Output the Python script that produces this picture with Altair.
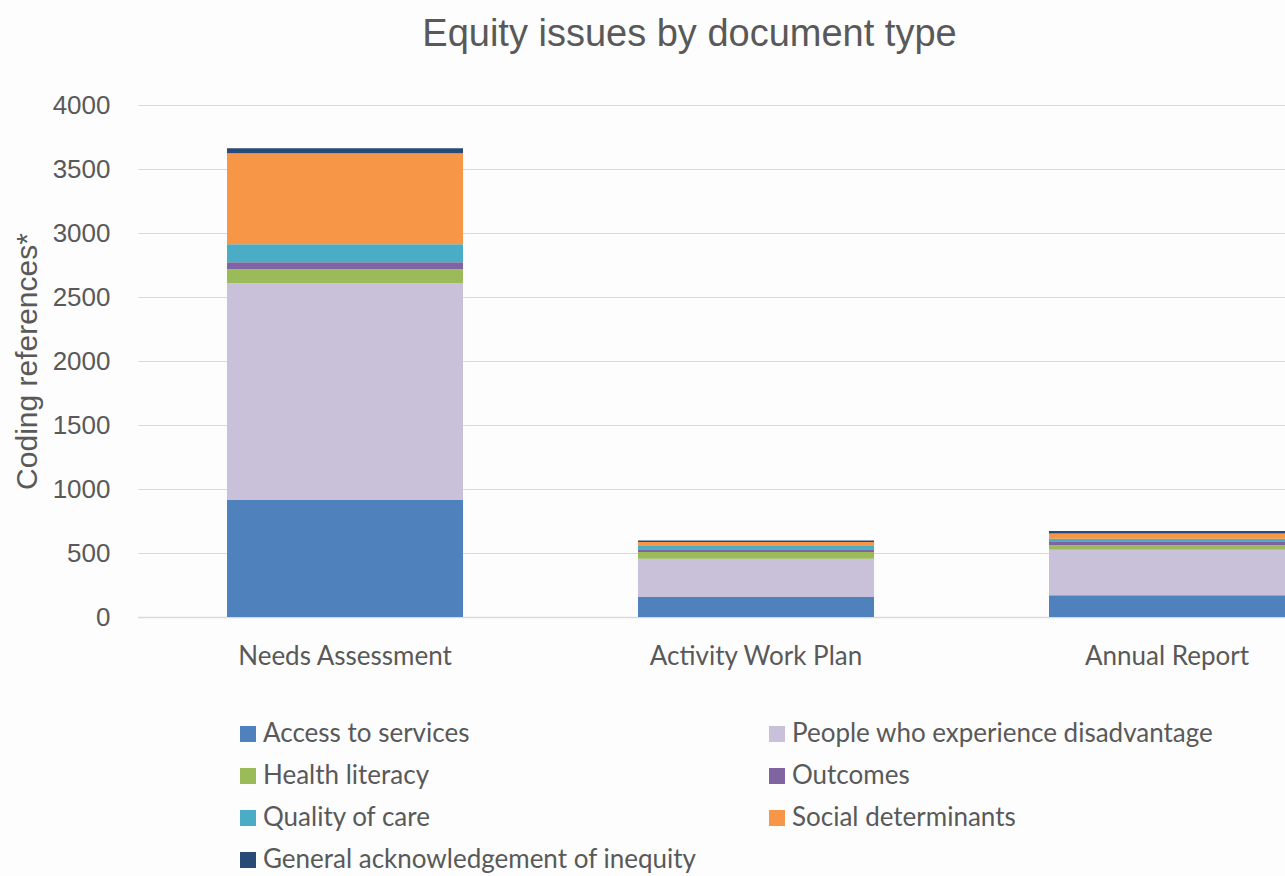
import altair as alt
import pandas as pd

doc_types = ["Needs Assessment", "Activity Work Plan", "Annual Report"]
issues = [
    "Access to services",
    "People who experience disadvantage",
    "Health literacy",
    "Outcomes",
    "Quality of care",
    "Social determinants",
    "General acknowledgement of inequity",
]
colors = ["#4f81bd", "#c9c0da", "#9bbb59", "#8064a2", "#4bacc6", "#f79646", "#284a77"]

access = [915, 157, 170]
people = [1692, 299, 356]
health_literacy = [109, 52, 34]
outcomes = [55, 21, 31]
quality = [141, 31, 21]
social = [711, 26, 40]
general = [39, 11, 20]

series = [access, people, health_literacy, outcomes, quality, social, general]
rows = []
for i, (name, vals) in enumerate(zip(issues, series)):
    for d, v in zip(doc_types, vals):
        rows.append({"doc": d, "issue": name, "value": v, "order": i})
df = pd.DataFrame(rows)

# legend is filled column by column; arrange so it reads row by row
legend_order = [issues[0], issues[2], issues[4], issues[6], issues[1], issues[3], issues[5]]
legend_colors = [colors[issues.index(n)] for n in legend_order]

label_font = "Lato"
grey = "#595959"

chart = alt.Chart(df).mark_bar().encode(
    x=alt.X("doc:N", sort=doc_types, title=None,
            scale=alt.Scale(paddingInner=0.4258, paddingOuter=0.1083, align=1),
            axis=alt.Axis(labelAngle=0, labelFont=label_font, labelFontSize=26,
                          labelColor=grey, labelPadding=26, labelLimit=600, ticks=False,
                          domainColor="#d9d9d9", domainWidth=1.5, grid=False)),
    y=alt.Y("value:Q", stack="zero", title="Coding references*",
            scale=alt.Scale(domain=[0, 4000]),
            axis=alt.Axis(values=[0, 500, 1000, 1500, 2000, 2500, 3000, 3500, 4000],
                          format="d",
                          labelFont="Liberation Sans", labelFontSize=26, labelColor=grey,
                          labelPadding=28, ticks=False, domain=False,
                          gridColor="#d9d9d9", gridWidth=1.2,
                          titleFont="Liberation Sans", titleFontSize=30,
                          titleFontWeight="normal", titleColor=grey, titlePadding=10)),
    color=alt.Color("issue:N", sort=legend_order,
                    scale=alt.Scale(domain=legend_order, range=legend_colors),
                    legend=alt.Legend(title=None, orient="none", legendX=97, legendY=616,
                                      columns=2, columnPadding=67, rowPadding=16,
                                      symbolType="square", symbolSize=256,
                                      symbolStrokeWidth=0, labelFont=label_font,
                                      labelFontSize=26, labelColor=grey, labelOffset=2,
                                      labelLimit=800)),
    order=alt.Order("order:Q", sort="ascending"),
).properties(
    width=1147,
    height=512,
    title=alt.TitleParams("Equity issues by document type", font="Liberation Sans",
                          fontSize=38, fontWeight="normal", color=grey,
                          anchor="middle", dx=-22, offset=38),
    autosize=alt.AutoSizeParams(type="none"),
    padding={"left": 138, "top": 105, "right": 0, "bottom": 259},
    background="#fdfdfd",
).configure_view(stroke=None)

chart.save("out.html", embed_options={"renderer": "svg", "actions": False})
